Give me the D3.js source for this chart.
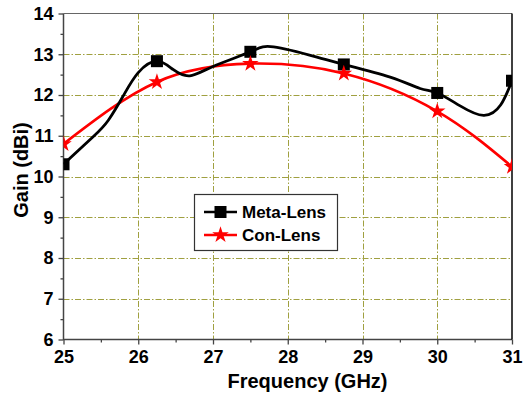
<!DOCTYPE html>
<html>
<head>
<meta charset="utf-8">
<script src="https://cdn.jsdelivr.net/npm/d3@7/dist/d3.min.js"></script>
<style>
  html, body { margin: 0; padding: 0; background: #fff; }
  svg text { font-family: "Liberation Sans", Arial, sans-serif; font-weight: bold; fill: #000; }
</style>
</head>
<body>
<svg id="chart" width="523" height="399"></svg>
<script>
// Measured gain at the marker frequencies
const freqs = [25, 26.25, 27.5, 28.75, 30, 31];
const metaGain = [10.3, 12.83, 13.06, 12.75, 12.05, 12.35];
const conGain = [10.8, 12.32, 12.77, 12.53, 11.6, 10.24];

// Finer trace of the Meta-Lens response curve
const metaTraceFreq = [25, 25.4, 25.6, 25.8, 26.0, 26.25, 26.47, 26.69, 27.0, 27.5, 27.81, 28.39, 28.75, 29.37, 29.77, 30, 30.3, 30.62, 30.85, 31];
const metaTraceGain = [10.3, 10.98, 11.38, 11.98, 12.55, 12.83, 12.62, 12.47, 12.7, 13.06, 13.18, 12.93, 12.75, 12.44, 12.16, 12.05, 11.74, 11.5, 11.76, 12.35];

// Axis ticks
const xTicks = [25, 26, 27, 28, 29, 30, 31];
const yTicks = [6, 7, 8, 9, 10, 11, 12, 13, 14];
const xMinor = [25.5, 26.5, 27.5, 28.5, 29.5, 30.5];
const yMinor = [6.5, 7.5, 8.5, 9.5, 10.5, 11.5, 12.5, 13.5];

const seriesNames = ["Meta-Lens", "Con-Lens"];

const svg = d3.select("#chart");
const pL = 63.5, pR = 512, pT = 13.5, pB = 339.5;

const x = d3.scaleLinear().domain([25, 31]).range([pL, pR]);
const y = d3.scaleLinear().domain([6, 14]).range([pB, pT]);

svg.append("defs").append("clipPath").attr("id", "plotClip")
  .append("rect").attr("x", pL).attr("y", pT)
  .attr("width", pR - pL).attr("height", pB - pT);

// Grid (dash-dot)
const grid = svg.append("g");
grid.selectAll("line.v").data(xTicks.filter(d => d > 25 && d < 31)).join("line")
  .attr("x1", d => Math.round(x(d)) + 0.5).attr("x2", d => Math.round(x(d)) + 0.5)
  .attr("y1", pT).attr("y2", pB)
  .attr("stroke", "#a0a040").attr("stroke-width", 1).attr("stroke-dasharray", "6,2,1.5,2");
grid.selectAll("line.h").data(yTicks.filter(d => d > 6 && d < 14)).join("line")
  .attr("y1", d => Math.round(y(d)) + 0.5).attr("y2", d => Math.round(y(d)) + 0.5)
  .attr("x1", pL).attr("x2", pR)
  .attr("stroke", "#a0a040").attr("stroke-width", 1).attr("stroke-dasharray", "6,2,1.5,2");

// Axes
const fmt = d3.format("d");
svg.append("g").attr("transform", `translate(0,${pB})`)
  .call(d3.axisBottom(x).tickValues(xTicks).tickFormat(fmt).tickSize(5).tickPadding(6));
svg.append("g").attr("transform", `translate(0,${pB})`)
  .call(d3.axisBottom(x).tickValues(xMinor).tickFormat("").tickSize(3));
svg.append("g").attr("transform", `translate(${pL},0)`)
  .call(d3.axisLeft(y).tickValues(yTicks).tickFormat(fmt).tickSize(5).tickPadding(5));
svg.append("g").attr("transform", `translate(${pL},0)`)
  .call(d3.axisLeft(y).tickValues(yMinor).tickFormat("").tickSize(3));

svg.selectAll(".domain").remove();
svg.selectAll(".tick line").attr("stroke", "#444").attr("stroke-width", 1.3);
svg.selectAll(".tick text").style("font-size", "18px").style("font-weight", "bold")
  .style("font-family", "'Liberation Sans', Arial, sans-serif").attr("fill", "#000");

// Frame
svg.append("line").attr("x1", pL).attr("x2", pL).attr("y1", pT).attr("y2", pB + 0.5)
  .attr("stroke", "#444").attr("stroke-width", 1.5);
svg.append("line").attr("x1", pL).attr("x2", pR).attr("y1", pB).attr("y2", pB)
  .attr("stroke", "#444").attr("stroke-width", 1.5);
svg.append("line").attr("x1", pL).attr("x2", pR).attr("y1", pT).attr("y2", pT)
  .attr("stroke", "#666").attr("stroke-width", 1.2);
svg.append("line").attr("x1", pR).attr("x2", pR).attr("y1", pT).attr("y2", pB)
  .attr("stroke", "#000").attr("stroke-width", 1.5);

// Curves and markers
const plot = svg.append("g").attr("clip-path", "url(#plotClip)");

const metaLine = d3.line().curve(d3.curveNatural)
  .x(d => x(d[0])).y(d => y(d[1]));
const conLine = d3.line().curve(d3.curveNatural)
  .x(d => x(d[0])).y(d => y(d[1]));

const conPts = freqs.map((f, i) => [f, conGain[i]]);
const metaPts = freqs.map((f, i) => [f, metaGain[i]]);
const metaTrace = metaTraceFreq.map((f, i) => [f, metaTraceGain[i]]);

plot.append("path").attr("d", conLine(conPts))
  .attr("fill", "none").attr("stroke", "#ff0000").attr("stroke-width", 2.6);
plot.append("path").attr("d", metaLine(metaTrace))
  .attr("fill", "none").attr("stroke", "#000").attr("stroke-width", 2.8);

const sq = 12;
plot.selectAll("rect.meta").data(metaPts).join("rect")
  .attr("x", d => x(d[0]) - sq / 2).attr("y", d => y(d[1]) - sq / 2)
  .attr("width", sq).attr("height", sq).attr("fill", "#000");

const star = d3.symbol().type(d3.symbolStar).size(85);
plot.selectAll("path.con").data(conPts).join("path")
  .attr("d", star)
  .attr("transform", d => `translate(${x(d[0])},${y(d[1])})`)
  .attr("fill", "#ff0000");

// Legend
const lg = svg.append("g");
lg.append("rect").attr("x", 194.5).attr("y", 194.5).attr("width", 143).attr("height", 56)
  .attr("fill", "#fff").attr("stroke", "#333").attr("stroke-width", 1.2);
const legendRows = [
  { name: seriesNames[0], color: "#000", cy: 212, kind: "square" },
  { name: seriesNames[1], color: "#ff0000", cy: 235, kind: "star" }
];
legendRows.forEach(r => {
  lg.append("line").attr("x1", 204).attr("x2", 237).attr("y1", r.cy).attr("y2", r.cy)
    .attr("stroke", r.color).attr("stroke-width", 2.6);
  if (r.kind === "square") {
    lg.append("rect").attr("x", 220.5 - sq / 2).attr("y", r.cy - sq / 2)
      .attr("width", sq).attr("height", sq).attr("fill", r.color);
  } else {
    lg.append("path").attr("d", star).attr("transform", `translate(220.5,${r.cy})`).attr("fill", r.color);
  }
  lg.append("text").attr("x", 242).attr("y", r.cy + 6).style("font-size", "17px").text(r.name);
});

// Axis titles
svg.append("text").attr("x", 307.5).attr("y", 388).attr("text-anchor", "middle")
  .style("font-size", "20px").text("Frequency (GHz)");
svg.append("text").attr("transform", "translate(28,170) rotate(-90)").attr("text-anchor", "middle")
  .style("font-size", "20px").text("Gain (dBi)");
</script>
</body>
</html>
